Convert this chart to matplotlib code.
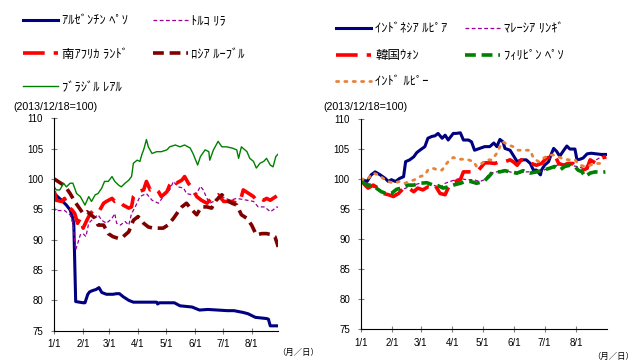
import matplotlib
matplotlib.use('Agg')
from matplotlib import pyplot as plt

plt.rcParams['font.family'] = ['Liberation Sans', 'Noto Sans CJK JP']

# Day offsets from 1/1 and index values (2013/12/18 = 100)
ars_days = [0, 7, 13, 17, 20, 21, 23, 27, 31, 33, 36, 38, 41, 45, 48, 51, 56, 63, 67, 70, 74, 80,
            85, 110, 111, 113, 129, 135, 148, 156, 165, 186, 193, 203, 208, 216, 228, 230, 232, 241]
ars_vals = [97.6, 96.6, 95.7, 94.9, 93.5, 92.5, 79.8, 79.7, 79.6, 79.6, 81.0, 81.4, 81.6, 81.8, 82.1,
            81.3, 81.0, 81.0, 81.1, 81.1, 80.6, 80.0, 79.7, 79.7, 79.4, 79.6, 79.6, 79.1, 78.9, 78.4,
            78.5, 78.3, 78.3, 78.0, 77.8, 77.2, 77.0, 76.9, 75.8, 75.8]

try_days = [0, 1, 6, 11, 17, 20, 23, 28, 31, 34, 37, 42, 47, 51, 56, 62, 65, 67, 71, 76, 80, 83, 87,
            92, 99, 105, 112, 117, 124, 128, 133, 139, 142, 148, 153, 157, 160, 164, 167, 174, 180,
            189, 196, 207, 214, 219, 226, 232, 235, 239, 241]
try_vals = [95.4, 94.8, 94.8, 94.8, 94.1, 92.7, 88.3, 90.8, 91.0, 90.5, 92.7, 93.5, 94.1, 93.2, 92.7,
            93.5, 94.3, 92.7, 92.4, 93.0, 92.4, 94.3, 95.4, 97.1, 97.6, 96.5, 96.0, 97.1, 98.2, 99.6,
            98.7, 98.5, 97.6, 97.4, 97.6, 98.8, 98.2, 96.8, 96.0, 96.5, 97.1, 96.5, 96.8, 96.5, 96.3,
            95.4, 95.4, 94.6, 94.9, 95.4, 95.3]

zar_days = [0, 2, 8, 11, 15, 19, 22, 25, 28, 31, 35, 38, 42, 46, 49, 53, 56, 62, 65, 69, 74, 80, 83,
            85, 90, 96, 99, 103, 108, 112, 115, 121, 124, 128, 131, 137, 140, 144, 148, 153, 158, 164,
            167, 171, 176, 182, 185, 191, 196, 200, 203, 209, 214, 217, 221, 225, 228, 232, 235, 239]
zar_vals = [98.0, 96.5, 96.3, 96.8, 95.4, 94.9, 94.3, 92.7, 93.5, 91.9, 93.2, 94.1, 94.9, 95.2, 94.9,
            96.0, 96.3, 96.8, 96.3, 96.5, 95.7, 95.2, 95.4, 97.1, 97.9, 98.2, 99.6, 98.2, 98.5, 97.9,
            97.1, 97.9, 99.0, 99.8, 99.3, 99.8, 100.4, 99.3, 98.5, 97.1, 96.5, 96.0, 96.5, 97.1, 97.4,
            96.3, 96.3, 96.3, 96.0, 96.5, 98.2, 97.6, 97.1, 96.5, 96.8, 96.5, 96.8, 96.5, 96.8, 97.2]

rub_days = [0, 4, 10, 13, 17, 22, 26, 31, 35, 38, 44, 47, 53, 58, 63, 69, 74, 80, 85, 90, 96, 101,
            106, 112, 117, 122, 128, 133, 137, 142, 148, 153, 158, 164, 169, 174, 180, 185, 191, 196,
            201, 207, 212, 217, 223, 228, 234, 237, 241]
rub_vals = [100.0, 99.6, 99.0, 98.5, 97.6, 96.3, 95.4, 94.3, 94.6, 94.3, 93.5, 92.4, 92.4, 91.0, 90.5,
            90.2, 90.5, 91.3, 93.2, 93.8, 92.7, 92.1, 91.9, 91.9, 91.9, 92.4, 93.5, 94.6, 95.4, 96.0,
            94.9, 94.1, 95.4, 95.4, 95.2, 96.5, 97.4, 96.5, 96.0, 95.7, 94.1, 93.5, 92.4, 90.8, 91.0,
            91.0, 90.8, 90.5, 88.6]

brl_days = [0, 2, 6, 10, 13, 17, 20, 24, 28, 33, 37, 40, 44, 47, 51, 54, 58, 62, 65, 69, 72, 76, 80,
            83, 85, 89, 92, 94, 96, 99, 101, 105, 110, 115, 121, 124, 130, 135, 140, 146, 149, 154,
            157, 162, 166, 167, 171, 176, 180, 185, 191, 196, 198, 201, 207, 210, 214, 217, 221, 225,
            228, 232, 235, 238, 241]
brl_vals = [98.7, 98.2, 98.2, 99.3, 98.7, 99.3, 99.3, 97.6, 97.1, 95.7, 97.1, 96.3, 97.4, 97.6, 98.5,
            99.6, 99.6, 100.4, 99.6, 99.0, 98.7, 99.3, 99.8, 100.4, 102.6, 103.1, 102.9, 104.0, 104.8,
            106.5, 105.3, 104.2, 104.5, 104.5, 104.8, 105.3, 105.6, 105.3, 105.6, 105.1, 104.2, 102.3,
            103.7, 104.8, 104.5, 103.1, 104.8, 106.2, 105.3, 105.3, 105.1, 104.8, 103.4, 105.3, 104.5,
            103.4, 102.9, 101.8, 102.6, 102.9, 103.4, 102.3, 102.0, 103.7, 104.2]

idr_days = [0, 6, 10, 14, 19, 24, 27, 30, 34, 38, 42, 44, 48, 52, 55, 58, 63, 66, 70, 73, 76, 80, 83,
            86, 91, 94, 98, 101, 106, 109, 112, 117, 122, 127, 131, 134, 137, 140, 142, 147, 150, 154,
            158, 163, 167, 170, 173, 177, 178, 181, 185, 188, 190, 193, 196, 200, 203, 206, 211, 213,
            216, 219, 223, 227, 232, 237, 242]
idr_vals = [100.0, 99.6, 100.7, 101.2, 100.7, 100.1, 99.6, 99.9, 99.6, 100.1, 100.4, 102.9, 103.2,
            103.7, 104.4, 104.8, 105.4, 106.8, 107.1, 107.2, 107.6, 106.8, 107.3, 106.5, 107.6, 107.6,
            107.7, 106.5, 106.5, 106.2, 104.8, 105.1, 105.4, 105.4, 106.0, 105.4, 106.6, 106.2, 105.1,
            104.8, 104.0, 102.9, 103.2, 103.2, 102.6, 101.5, 101.5, 100.7, 101.5, 102.3, 102.9, 104.3,
            105.1, 104.6, 103.8, 104.8, 105.5, 105.0, 105.0, 103.2, 103.3, 103.5, 104.2, 104.3, 104.2,
            104.1, 104.1]

myr_days = [0, 6, 12, 19, 25, 30, 35, 40, 47, 52, 58, 65, 71, 78, 83, 88, 93, 98, 104, 111, 117, 122,
            127, 134, 141, 147, 154, 160, 167, 173, 180, 186, 193, 200, 206, 213, 219, 226, 232, 237,
            242]
myr_vals = [100.0, 99.3, 98.7, 98.2, 97.6, 97.1, 97.6, 98.2, 98.7, 99.0, 99.3, 99.4, 99.0, 98.6, 99.3,
            99.6, 99.9, 100.1, 99.9, 99.9, 99.6, 99.9, 101.0, 101.2, 101.5, 101.2, 100.8, 101.2, 101.2,
            101.0, 101.5, 101.8, 102.3, 102.5, 102.3, 102.1, 101.8, 102.6, 103.2, 103.7, 104.0]

krw_days = [0, 4, 7, 12, 17, 22, 27, 32, 37, 42, 47, 52, 56, 61, 66, 70, 73, 78, 83, 88, 93, 98, 101,
            106, 111, 116, 119, 122, 127, 132, 137, 142, 147, 150, 154, 158, 163, 168, 173, 178, 183,
            188, 191, 195, 200, 204, 209, 214, 218, 223, 226, 231, 234, 237, 242]
krw_vals = [99.9, 99.0, 98.5, 99.0, 98.5, 97.6, 97.4, 97.1, 97.6, 98.5, 98.5, 97.9, 98.5, 98.2, 98.7,
            98.5, 99.0, 97.6, 97.4, 99.3, 99.6, 99.9, 101.2, 101.2, 101.2, 101.5, 102.1, 102.7, 102.7,
            102.6, 102.9, 102.9, 103.2, 102.9, 102.3, 103.2, 102.9, 102.6, 102.3, 102.6, 103.5, 103.7,
            104.0, 102.6, 102.3, 102.6, 102.6, 101.8, 101.4, 101.8, 103.2, 102.7, 103.2, 103.5, 103.7]

php_days = [0, 6, 10, 15, 20, 25, 30, 35, 40, 45, 52, 58, 65, 71, 76, 81, 86, 91, 98, 103, 108, 114,
            121, 126, 130, 137, 142, 147, 154, 160, 167, 173, 180, 186, 191, 196, 201, 206, 211, 214,
            218, 221, 226, 231, 236, 241]
php_vals = [99.6, 99.0, 99.0, 98.5, 97.9, 97.6, 97.6, 98.3, 98.5, 99.0, 99.0, 99.3, 99.4, 99.0, 98.9,
            98.5, 98.7, 99.0, 99.3, 99.6, 99.6, 99.3, 99.6, 100.4, 101.2, 101.2, 101.4, 101.2, 101.0,
            101.4, 101.0, 101.2, 101.5, 101.8, 102.1, 101.5, 102.1, 102.3, 102.1, 101.5, 101.2, 100.4,
            101.0, 101.2, 101.1, 101.2]

inr_days = [0, 6, 12, 17, 22, 27, 32, 38, 43, 48, 53, 58, 63, 66, 71, 76, 80, 83, 86, 91, 96, 101,
            106, 111, 114, 119, 124, 129, 134, 137, 140, 145, 150, 155, 160, 167, 170, 175, 180, 186,
            190, 195, 200, 206, 211, 216, 221, 226, 231, 236, 241]
inr_vals = [100.0, 99.9, 101.0, 100.7, 100.1, 99.6, 99.3, 99.6, 99.3, 99.6, 99.9, 100.4, 100.7, 101.5,
            101.8, 101.5, 101.5, 102.3, 102.9, 103.6, 103.3, 103.3, 103.2, 102.9, 102.1, 102.6, 103.2,
            103.2, 104.3, 105.4, 106.2, 105.7, 105.4, 104.8, 104.8, 104.8, 103.5, 102.9, 103.5, 104.0,
            104.0, 103.7, 103.3, 103.2, 103.2, 102.3, 102.1, 102.3, 102.6, 102.6, 102.9]

month_days = [0, 31, 59, 90, 120, 151, 181, 212]
month_labels = ['1/1', '2/1', '3/1', '4/1', '5/1', '6/1', '7/1', '8/1']
y_ticks = [75, 80, 85, 90, 95, 100, 105, 110]

NAVY = '#000080'
PURPLE = '#990099'
RED = '#FF0000'
MAROON = '#800000'
GREEN = '#008000'
ORANGE = '#E8823A'


def style_axis(ax, xmax):
    ax.set_xlim(0, xmax)
    ax.set_ylim(75, 110)
    ax.set_xticks(month_days)
    ax.set_xticklabels(month_labels)
    ax.set_yticks(y_ticks)
    ax.spines['top'].set_visible(False)
    ax.spines['right'].set_visible(False)
    ax.spines['left'].set_color('black')
    ax.spines['bottom'].set_color('black')
    ax.tick_params(axis='both', labelsize=7, length=4, direction='inout', color='#808080', width=0.8)
    ax.tick_params(axis='y', pad=6)
    ax.tick_params(axis='x', pad=4)


def add_legend(ax, handles, anchor, spacing, colspace):
    ax.legend(handles=handles, ncol=2, frameon=False, fontsize=9,
              loc='upper left', bbox_to_anchor=anchor, bbox_transform=fig.transFigure,
              handlelength=2.8, handletextpad=0.3, labelspacing=spacing, columnspacing=colspace,
              borderpad=0.3, borderaxespad=0.0)


fig = plt.figure(figsize=(6.37, 3.62), dpi=100)

# Left panel: ARS, TRY, ZAR, RUB, BRL
ax1 = fig.add_axes([0.0852, 0.0865, 0.3512, 0.5867])
l_ars, = ax1.plot(ars_days, ars_vals, color=NAVY, lw=2.2, label='ｱﾙｾﾞﾝﾁﾝ ﾍﾟｿ')
l_try, = ax1.plot(try_days, try_vals, color=PURPLE, lw=0.9, linestyle=(0, (3, 2)), label='ﾄﾙｺ ﾘﾗ')
l_zar, = ax1.plot(zar_days, zar_vals, color=RED, lw=2.6, linestyle=(0, (6, 2.5)), label='南ｱﾌﾘｶ ﾗﾝﾄﾞ')
l_rub, = ax1.plot(rub_days, rub_vals, color=MAROON, lw=2.6, linestyle=(0, (3, 1.6)), label='ﾛｼｱ ﾙｰﾌﾞﾙ')
l_brl, = ax1.plot(brl_days, brl_vals, color=GREEN, lw=1.0, label='ﾌﾞﾗｼﾞﾙ ﾚｱﾙ')
style_axis(ax1, 240.3)
add_legend(ax1, [l_ars, l_zar, l_brl, l_try, l_rub], (0.03, 0.967), 1.68, 2.0)

# Right panel: IDR, MYR, KRW, PHP, INR
ax2 = fig.add_axes([0.5667, 0.0903, 0.3857, 0.581])
l_idr, = ax2.plot(idr_days, idr_vals, color=NAVY, lw=2.2, label='ｲﾝﾄﾞﾈｼｱ ﾙﾋﾟｱ')
l_myr, = ax2.plot(myr_days, myr_vals, color=PURPLE, lw=0.9, linestyle=(0, (3, 2)), label='ﾏﾚｰｼｱ ﾘﾝｷﾞ')
l_krw, = ax2.plot(krw_days, krw_vals, color=RED, lw=2.6, linestyle=(0, (6, 2.5)), label='韓国ｳｫﾝ')
l_php, = ax2.plot(php_days, php_vals, color=GREEN, lw=2.6, linestyle=(0, (3, 1.6)), label='ﾌｨﾘﾋﾟﾝ ﾍﾟｿ')
l_inr, = ax2.plot(inr_days, inr_vals, color=ORANGE, lw=2.0, linestyle=(0, (0.8, 2.2)),
                  dash_capstyle='round', label='ｲﾝﾄﾞ ﾙﾋﾟｰ')
style_axis(ax2, 242.3)
add_legend(ax2, [l_idr, l_krw, l_inr, l_myr, l_php], (0.522, 0.945), 1.16, 1.45)

# Base-date notes and axis unit labels
fig.text(13 / 637, 1 - 107 / 362, '(2013/12/18=100)', fontsize=7.7, va='center', ha='left')
fig.text(323 / 637, 1 - 107 / 362, '(2013/12/18=100)', fontsize=7.7, va='center', ha='left')
fig.text(277 / 637, 1 - 353 / 362, '（月／日）', fontsize=6, va='center', ha='left')
fig.text(592 / 637, 1 - 357 / 362, '（月／日）', fontsize=6, va='center', ha='left')

fig.savefig('out.png', dpi=100)
